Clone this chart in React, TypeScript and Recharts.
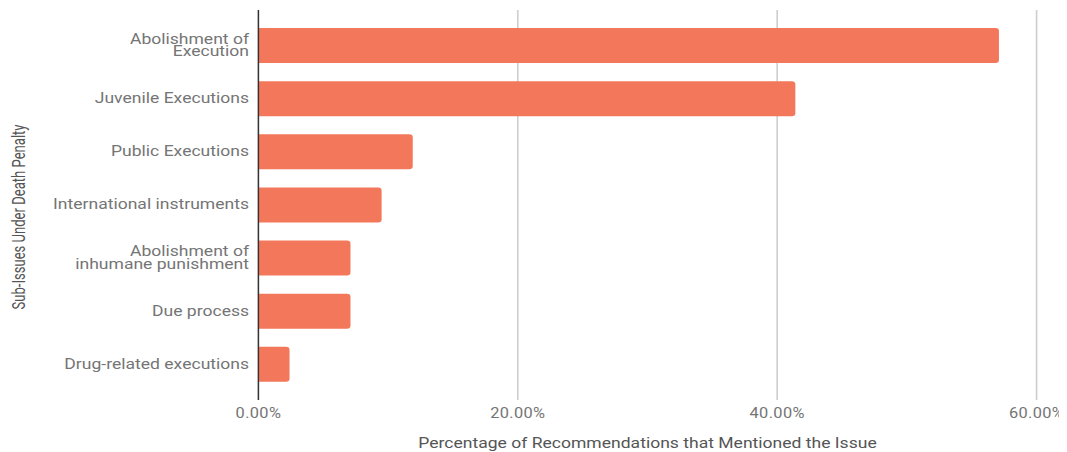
import { Bar, BarChart, CartesianGrid, Label, XAxis, YAxis } from "recharts";

// sub-issues, top to bottom (\n marks the label line breaks)
const ISSUES = [
  "Abolishment of\nExecution",
  "Juvenile Executions",
  "Public Executions",
  "International instruments",
  "Abolishment of\ninhumane punishment",
  "Due process",
  "Drug-related executions",
];
const SHARE = [57.1, 41.4, 11.9, 9.5, 7.1, 7.1, 2.4];
const X_TICKS = [0, 20, 40, 60];

const data = ISSUES.map((issue, i) => ({ issue, share: SHARE[i] }));

const FONT = "Roboto, 'Noto Sans', sans-serif";
const TICK_COLOR = "#757575";
const TITLE_COLOR = "#555";

// the source chart is stretched sideways, so draw narrow and scale in x
const W = 905;
const H = 444;
const STRETCH = 1059 / W;

/* right-aligned category label, split on \n */
function IssueTick({ x, y, payload }: any) {
  const lines = String(payload.value).split("\n");
  const lh = 12.2;
  return (
    <text x={x} y={y} textAnchor="end" fill={TICK_COLOR} fontFamily={FONT} fontSize={15}>
      {lines.map((l, i) => (
        <tspan key={i} x={x} dy={i === 0 ? 4.3 - ((lines.length - 1) * lh) / 2 : lh}>
          {l}
        </tspan>
      ))}
    </text>
  );
}

function YTitle({ viewBox }: any) {
  const cx = viewBox.x + 9.5;
  const cy = viewBox.y + viewBox.height / 2 + 12;
  return (
    <text
      x={cx}
      y={cy}
      transform={`rotate(-90 ${cx} ${cy})`}
      textAnchor="middle"
      dominantBaseline="central"
      fill={TITLE_COLOR}
      fontFamily={FONT}
      fontSize={15}
      textLength={185}
      lengthAdjust="spacingAndGlyphs"
    >
      Sub-Issues Under Death Penalty
    </text>
  );
}

export default function App() {
  return (
    <div style={{ width: W, height: H, transform: `scaleX(${STRETCH})`, transformOrigin: "0 0" }}>
      <BarChart
        width={W}
        height={H}
        data={data}
        layout="vertical"
        margin={{ top: 2, right: 26, bottom: 0, left: 0 }}
      >
        <CartesianGrid horizontal={false} stroke="#cfcfcf" strokeWidth={1.4} />
        <XAxis
          type="number"
          domain={[0, 60]}
          ticks={X_TICKS}
          tickFormatter={(v) => `${(v as number).toFixed(2)}%`}
          axisLine={false}
          tickLine={false}
          height={52}
          tick={{ fill: TICK_COLOR, fontSize: 14, fontFamily: FONT, letterSpacing: 0.3 }}
        >
          <Label
            value="Percentage of Recommendations that Mentioned the Issue"
            position="insideBottom"
            offset={4}
            fill={TITLE_COLOR}
            fontSize={15}
            fontFamily={FONT}
          />
        </XAxis>
        <YAxis
          type="category"
          dataKey="issue"
          width={214}
          axisLine={{ stroke: "#333", strokeWidth: 1.2 }}
          tickLine={false}
          padding={{ top: 9, bottom: 9 }}
          tick={<IssueTick />}
          interval={0}
        >
          <Label content={<YTitle />} />
        </YAxis>
        <Bar
          dataKey="share"
          fill="#F3785B"
          barSize={35}
          radius={[0, 3, 3, 0]}
          isAnimationActive={false}
        />
      </BarChart>
    </div>
  );
}
